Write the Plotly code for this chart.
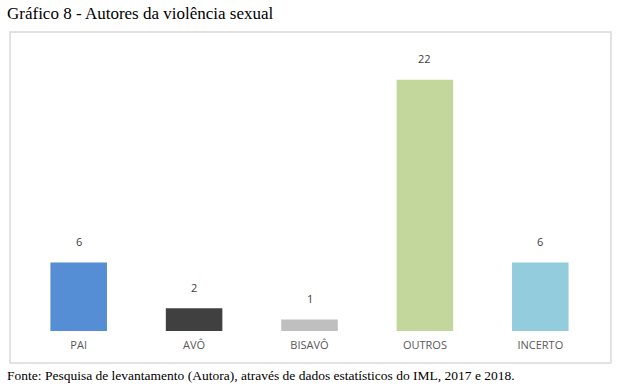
import plotly.graph_objects as go

categories = ["PAI", "AVÔ", "BISAVÔ", "OUTROS", "INCERTO"]
values = [6, 2, 1, 22, 6]
bar_colors = ["#558ED5", "#404040", "#BFBFBF", "#C3D69B", "#93CDDD"]
title_text = "Gráfico 8 - Autores da violência sexual"
source_text = "Fonte: Pesquisa de levantamento (Autora), através de dados estatísticos do IML, 2017 e 2018."

fig = go.Figure()
fig.add_trace(go.Bar(
    x=categories, y=values,
    marker=dict(color=bar_colors, line=dict(width=0)),
    width=0.49,
    hoverinfo="x+y",
))

for c, v in zip(categories, values):
    fig.add_annotation(x=c, y=v, text=str(v), showarrow=False, yshift=21,
                       font=dict(family="Open Sans, Arial, sans-serif", size=11, color="#404040"))

fig.add_shape(type="rect", xref="paper", yref="paper",
              x0=-0.019, x1=1.0225, y0=-0.1168, y1=1.0912,
              line=dict(color="#D9D9D9", width=1.5), fillcolor="rgba(0,0,0,0)", layer="below")

fig.add_annotation(xref="paper", yref="paper", x=(5-21)/577, y=(331-14)/274, xanchor="left", yanchor="middle",
                   text=title_text, showarrow=False,
                   font=dict(family="Liberation Serif, Times New Roman, serif", size=17, color="#000000"))
fig.add_annotation(xref="paper", yref="paper", x=(5-21)/577, y=(331-375)/274, xanchor="left", yanchor="middle",
                   text=source_text, showarrow=False,
                   font=dict(family="Liberation Serif, Times New Roman, serif", size=13.5, color="#000000"))

fig.update_layout(
    width=621, height=388,
    margin=dict(l=21, r=23, t=57, b=57),
    paper_bgcolor="white", plot_bgcolor="white",
    showlegend=False,
    bargap=0.51,
    xaxis=dict(showgrid=False, zeroline=False, showline=False, ticks="", ticklabelstandoff=6,
               tickfont=dict(family="Open Sans, Arial, sans-serif", size=11, color="#595959")),
    yaxis=dict(range=[0, 24], visible=False, showgrid=False, zeroline=False),
)

fig.write_html("out.html", config={"displayModeBar": False},
               post_script="document.body.style.margin='0';document.body.style.overflow='hidden';")
